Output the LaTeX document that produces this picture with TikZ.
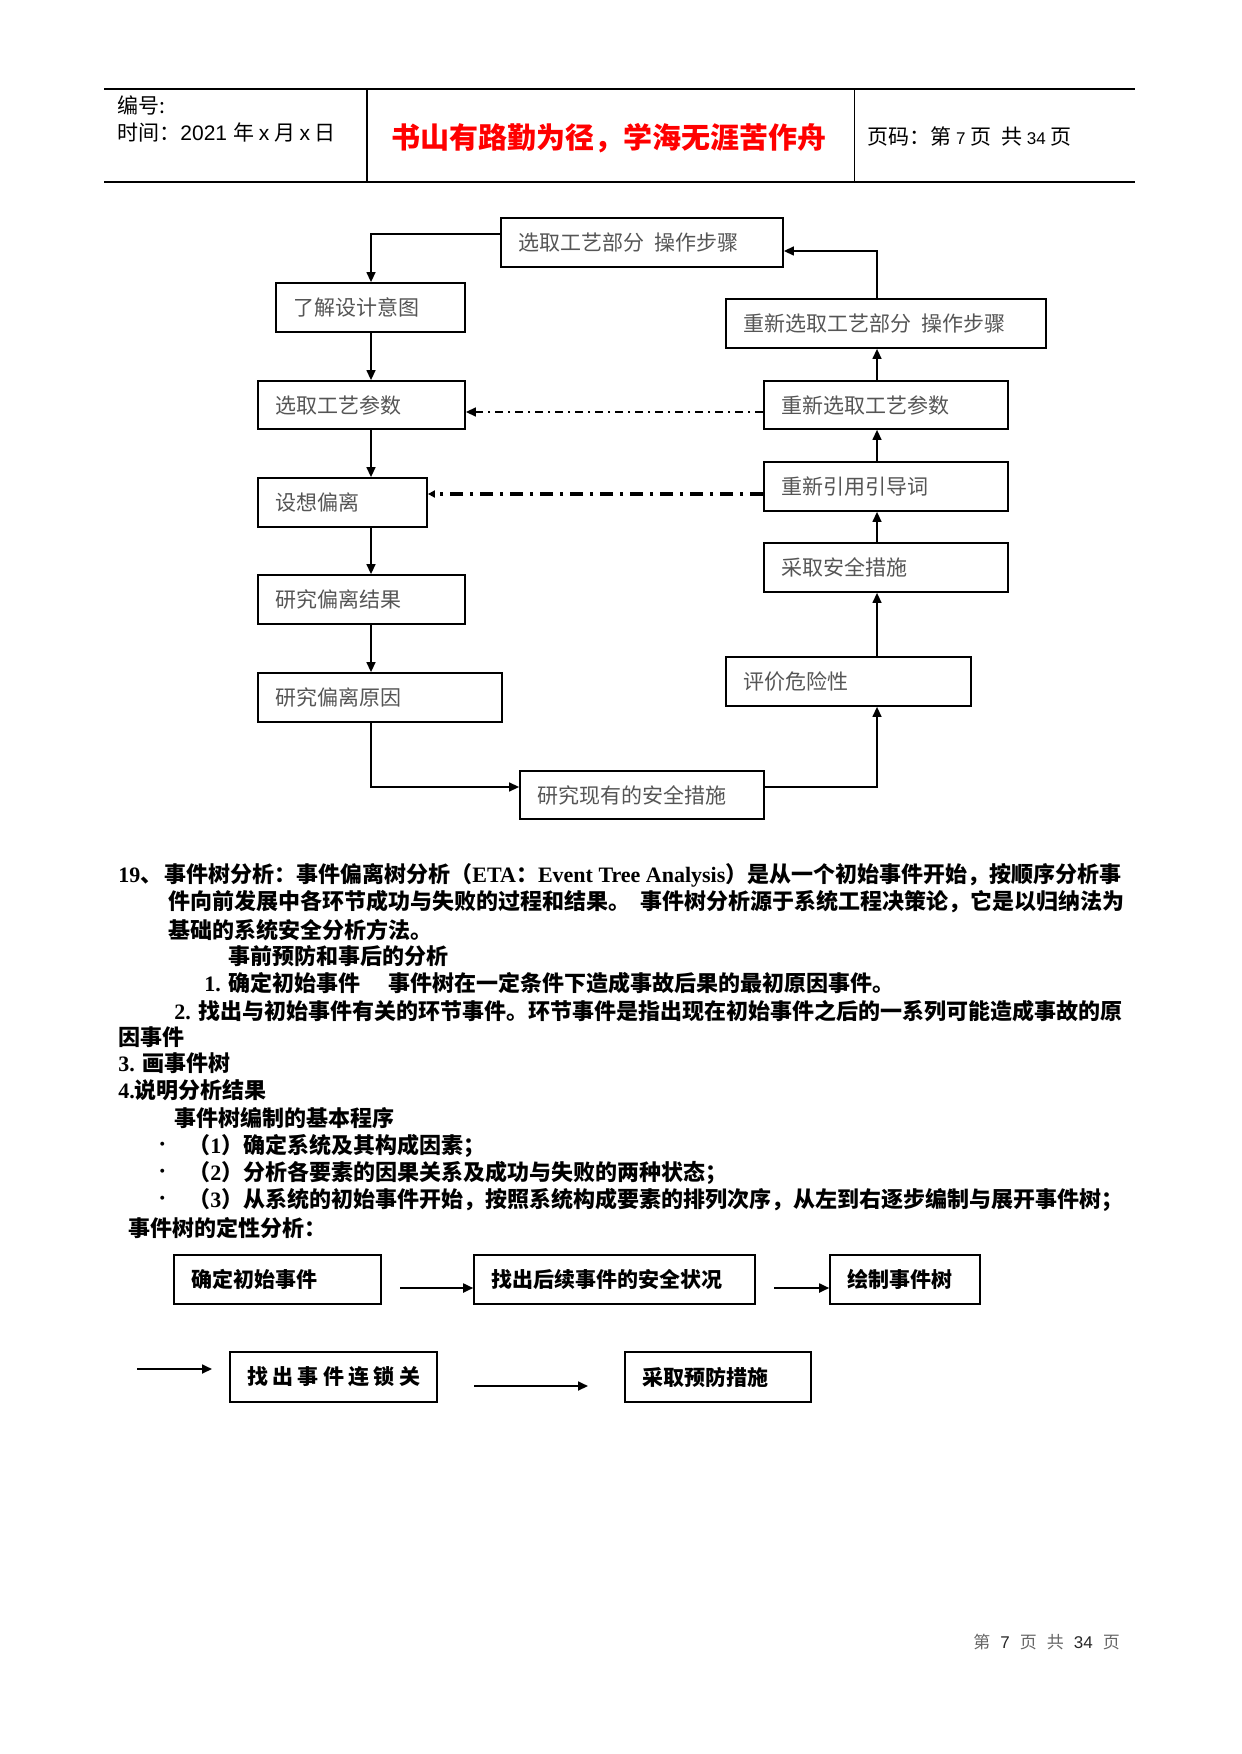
\documentclass[tikz,border=0pt]{standalone}
\usepackage{fontspec}
\setmainfont{Liberation Serif}
\newfontfamily\cjk{Noto Sans CJK SC}
\newfontfamily\arialf{Liberation Sans}
\usetikzlibrary{arrows.meta}
\definecolor{boxtext}{RGB}{85,85,85}
\definecolor{titlered}{RGB}{255,0,0}
\tikzset{
  fbox/.style={draw, line width=0.9pt, inner xsep=8.5pt, inner ysep=0pt, align=left,
    font=\cjk\fontsize{10.5}{12}\selectfont, text=boxtext},
  gbox/.style={draw, line width=0.8pt, inner xsep=8pt, inner ysep=0pt, align=left,
    font=\cjk\bfseries\fontsize{10.5}{12}\selectfont},
  conn/.style={line width=0.7pt},
  arr/.style={line width=0.7pt, -{Triangle[length=5pt,width=4.5pt]}},
  dashthin/.style={line width=0.7pt, dash pattern=on 4pt off 2.5pt on 1pt off 2.5pt, -{Triangle[length=5pt,width=4.5pt]}},
  dashthick/.style={line width=1.8pt, dash pattern=on 6.5pt off 3.5pt on 1.5pt off 3.5pt, -{Triangle[length=3.5pt,width=3.5pt]}},
  body/.style={anchor=west, inner sep=0pt, font=\cjk\bfseries\fontsize{11}{13}\selectfont},
  hdr/.style={anchor=west, inner sep=0pt, font=\cjk\fontsize{10.5}{12}\selectfont},
}
\newcommand\mkbox[7]{% style name x1 y1 x2 y2 text
  \pgfmathsetmacro\mybw{(#5-#3)*0.5}%
  \pgfmathsetmacro\mybh{(#6-#4)*0.5}%
  \node[#1, minimum height=\mybh pt, minimum width=\mybw pt, text width=\mybw pt-17pt] (#2) at ({(#3+#5)/2},{(#4+#6)/2}) {#7};%
}
\newcommand\dg[1]{{\rmfamily\bfseries #1}}
\begin{document}
\begin{tikzpicture}[x=0.5pt,y=-0.5pt]
\useasboundingbox (0,0) rectangle (1241,1754);
% header
\draw[line width=0.6pt] (104,89) -- (1135,89);
\draw[line width=0.6pt] (104,182) -- (1135,182);
\draw[line width=0.7pt] (367,89) -- (367,182);
\draw[line width=0.5pt] (854,89) -- (854,182);
\node[hdr] (h1) at (117,105) {编号:};
\node[hdr] (h2) at (117,132) {时间：{\arialf 2021}\hspace{3pt}年 {\arialf x} 月 {\arialf x} 日};
\node[inner sep=0pt, font=\cjk\bfseries\fontsize{14.5}{16}\selectfont, text=titlered] (title) at (609,138) {书山有路勤为径，学海无涯苦作舟};
\node[hdr] (h3) at (867,137) {页码：第 {\arialf\fontsize{8.5}{10}\selectfont 7} 页\hspace{5pt}共 {\arialf\fontsize{8.5}{10}\selectfont 34} 页};
% upper flowchart
\coordinate (cL) at (371,0);
\coordinate (cR) at (877,0);
\mkbox{fbox}{b1}{501}{218}{783}{267}{选取工艺部分\hspace{5pt}操作步骤}
\mkbox{fbox}{b2}{276}{283}{465}{332}{了解设计意图}
\mkbox{fbox}{b3}{726}{299}{1046}{348}{重新选取工艺部分\hspace{5pt}操作步骤}
\mkbox{fbox}{b4}{258}{381}{465}{429}{选取工艺参数}
\mkbox{fbox}{b5}{764}{381}{1008}{429}{重新选取工艺参数}
\mkbox{fbox}{b6}{258}{478}{427}{527}{设想偏离}
\mkbox{fbox}{b7}{764}{462}{1008}{511}{重新引用引导词}
\mkbox{fbox}{b8}{764}{543}{1008}{592}{采取安全措施}
\mkbox{fbox}{b9}{258}{575}{465}{624}{研究偏离结果}
\mkbox{fbox}{b10}{258}{673}{502}{722}{研究偏离原因}
\mkbox{fbox}{b11}{726}{657}{971}{706}{评价危险性}
\mkbox{fbox}{b12}{520}{771}{764}{819}{研究现有的安全措施}
\draw[arr] ([yshift=4.25pt]b1.west) -| (b2.north -| cL);
\draw[arr] (b2.south -| cL) -- (b4.north -| cL);
\draw[arr] (b4.south -| cL) -- (b6.north -| cL);
\draw[arr] (b6.south -| cL) -- (b9.north -| cL);
\draw[arr] (b9.south -| cL) -- (b10.north -| cL);
\draw[arr] (b10.south -| cL) |- ([yshift=4pt]b12.west);
\draw[arr] ([yshift=4pt]b12.east) -| (b11.south -| cR);
\draw[arr] (b11.north -| cR) -- (b8.south -| cR);
\draw[arr] (b8.north -| cR) -- (b7.south -| cR);
\draw[arr] (b7.north -| cR) -- (b5.south -| cR);
\draw[arr] (b5.north -| cR) -- (b3.south -| cR);
\draw[arr] (b3.north -| cR) |- ([yshift=-4.25pt]b1.east);
\coordinate (d1) at ([yshift=-3.5pt]b5.west);
\draw[dashthin] (d1) -- (b4.east |- d1);
\coordinate (d2) at ([yshift=-3.75pt]b7.west);
\draw[dashthick] (d2) -- (b6.east |- d2);
% body text
\node[body] (t1) at (118,875) {\dg{19}、\hspace{1pt}事件树分析：事件偏离树分析（\dg{ETA}：\dg{Event Tree Analysis}）是从一个初始事件开始，按顺序分析事};
\node[body] (t2) at (168,902) {件向前发展中各环节成功与失败的过程和结果。\hspace{5pt}事件树分析源于系统工程决策论，它是以归纳法为};
\node[body] (t3) at (168,930) {基础的系统安全分析方法。};
\node[body] (t4) at (228,956) {事前预防和事后的分析};
\node[body] (t5) at (204,983) {\dg{1.}\hspace{4pt}确定初始事件\hspace{14pt}事件树在一定条件下造成事故后果的最初原因事件。};
\node[body] (t6) at (174,1011) {\dg{2.}\hspace{4pt}找出与初始事件有关的环节事件。环节事件是指出现在初始事件之后的一系列可能造成事故的原};
\node[body] (t7) at (118,1037) {因事件};
\node[body] (t8) at (118,1063) {\dg{3.}\hspace{4pt}画事件树};
\node[body] (t9) at (118,1090) {\dg{4.}说明分析结果};
\node[body] (t10) at (174,1118) {事件树编制的基本程序};
\node[body] (u1) at (155,1146) {\fontsize{7}{8}\selectfont •};
\node[body] (t11) at (188,1146) {（\dg{1}）确定系统及其构成因素；};
\node[body] (u2) at (155,1173) {\fontsize{7}{8}\selectfont •};
\node[body] (t12) at (188,1173) {（\dg{2}）分析各要素的因果关系及成功与失败的两种状态；};
\node[body] (u3) at (155,1200) {\fontsize{7}{8}\selectfont •};
\node[body] (t13) at (188,1200) {（\dg{3}）从系统的初始事件开始，按照系统构成要素的排列次序，从左到右逐步编制与展开事件树；};
\node[body] (t14) at (128,1228) {事件树的定性分析：};
% lower flowchart
\mkbox{gbox}{c1}{174}{1255}{381}{1304}{确定初始事件}
\mkbox{gbox}{c2}{474}{1255}{755}{1304}{找出后续事件的安全状况}
\mkbox{gbox}{c3}{830}{1255}{980}{1304}{绘制事件树}
\mkbox{gbox}{c4}{230}{1352}{437}{1402}{\mbox{找\hspace{2.2pt}出\hspace{2.2pt}事\hspace{2.2pt}件\hspace{2.2pt}连\hspace{2.2pt}锁\hspace{2.2pt}关}}
\mkbox{gbox}{c5}{625}{1352}{811}{1402}{采取预防措施}
\coordinate (a1) at (400,1288);
\draw[arr, line width=0.9pt] (a1) -- (c2.west |- a1);
\coordinate (a2) at (774,1288);
\draw[arr, line width=0.9pt] (a2) -- (c3.west |- a2);
\coordinate (a3s) at (137,1369);
\coordinate (a3e) at (212,1369);
\draw[arr, line width=0.9pt] (a3s) -- (a3e);
\coordinate (a4s) at (474,1386);
\coordinate (a4e) at (588,1386);
\draw[arr, line width=0.9pt] (a4s) -- (a4e);
% footer
\node[anchor=west, inner sep=0pt, font=\cjk\fontsize{8.5}{10}\selectfont, text=black!60] (foot) at (973,1642) {第\hspace{5pt}{\arialf\color{black!85}7}\hspace{5pt}页\hspace{5pt}共\hspace{5pt}{\arialf\color{black!85}34}\hspace{5pt}页};
\end{tikzpicture}
\end{document}
